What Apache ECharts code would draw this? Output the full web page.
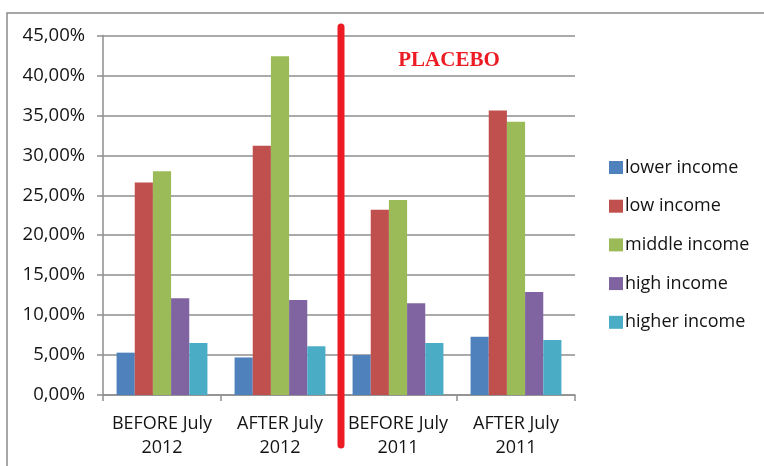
<!DOCTYPE html>
<html>
<head>
<meta charset="utf-8">
<script src="https://cdn.jsdelivr.net/npm/echarts@6/dist/echarts.min.js"></script>
<style>
  html, body { margin: 0; padding: 0; background: #fff; }
  #chart { width: 764px; height: 466px; }
</style>
</head>
<body>
<div id="chart"></div>
<script>
// Periods on the x axis
const categories = ['BEFORE July\n2012', 'AFTER July\n2012', 'BEFORE July\n2011', 'AFTER July\n2011'];

// Share of each income group per period (%)
const lowerIncome  = [5.3, 4.7, 5.0, 7.3];
const lowIncome    = [26.6, 31.2, 23.2, 35.6];
const middleIncome = [28.0, 42.4, 24.4, 34.2];
const highIncome   = [12.1, 11.9, 11.5, 12.9];
const higherIncome = [6.5, 6.1, 6.5, 6.9];

const seriesNames = ['lower income', 'low income', 'middle income', 'high income', 'higher income'];
const seriesData = [lowerIncome, lowIncome, middleIncome, highIncome, higherIncome];
const seriesColors = ['#4F81BD', '#C0504D', '#9BBB59', '#8064A2', '#4BACC6'];

// Value axis ticks
const yMin = 0, yMax = 45, yStep = 5;

const FONT = 'Open Sans';
const TEXT = '#141414';
const LINE = '#8e8e8e';

const chart = echarts.init(document.getElementById('chart'), null, { renderer: 'canvas' });

const option = {
  animation: false,
  backgroundColor: '#fff',
  textStyle: { fontFamily: FONT },
  grid: { left: 103, right: 189, top: 35.5, bottom: 71, containLabel: false },
  legend: {
    orient: 'vertical',
    left: 604,
    top: 153.5,
    itemWidth: 14,
    itemHeight: 13,
    itemGap: 20.7,
    icon: 'rect',
    data: seriesNames,
    textStyle: { fontFamily: FONT, fontSize: 18, color: TEXT, padding: [0, 0, 0, -3] }
  },
  xAxis: {
    type: 'category',
    data: categories,
    axisLine: { lineStyle: { color: LINE, width: 1.5 } },
    axisTick: { show: true, length: 6, alignWithLabel: false, lineStyle: { color: LINE, width: 1.5 } },
    axisLabel: { interval: 0, fontFamily: FONT, fontSize: 18, color: TEXT, lineHeight: 24, margin: 17, align: 'center' },
    splitLine: { show: false }
  },
  yAxis: {
    type: 'value',
    min: yMin,
    max: yMax,
    interval: yStep,
    axisLine: { show: true, lineStyle: { color: LINE, width: 1.5 } },
    axisTick: { show: true, length: 6, lineStyle: { color: LINE, width: 1.5 } },
    axisLabel: {
      fontFamily: FONT, fontSize: 18.5, color: TEXT, margin: 18,
      formatter: v => v.toFixed(2).replace('.', ',') + '%'
    },
    splitLine: { show: true, lineStyle: { color: LINE, width: 1.5 } }
  },
  series: seriesNames.map((name, i) => ({
    name,
    type: 'bar',
    data: seriesData[i],
    itemStyle: { color: seriesColors[i] },
    barGap: '0%',
    barCategoryGap: '23%'
  }))
};

chart.setOption(option);

// Divider between the study periods and the placebo periods
const xLeft = chart.convertToPixel({ xAxisIndex: 0 }, categories[1]);
const xRight = chart.convertToPixel({ xAxisIndex: 0 }, categories[2]);
const dividerX = (xLeft + xRight) / 2 + 2;

chart.setOption({
  graphic: [
    {
      type: 'polyline',
      shape: { points: [[7, 480], [7, 13], [780, 13]] },
      style: { stroke: '#8a8a8a', lineWidth: 1.5, fill: null },
      silent: true,
      z: 0
    },
    {
      type: 'line',
      shape: { x1: dividerX, y1: 27, x2: dividerX, y2: 445 },
      style: { stroke: '#ED1C24', lineWidth: 7, lineCap: 'round' },
      silent: true,
      z: 10
    },
    {
      type: 'text',
      x: 449,
      y: 61,
      style: {
        text: 'PLACEBO',
        font: 'bold 21px "Liberation Serif"',
        fill: '#ED1C24',
        align: 'center',
        verticalAlign: 'middle'
      },
      silent: true,
      z: 10
    }
  ]
});
</script>
</body>
</html>
